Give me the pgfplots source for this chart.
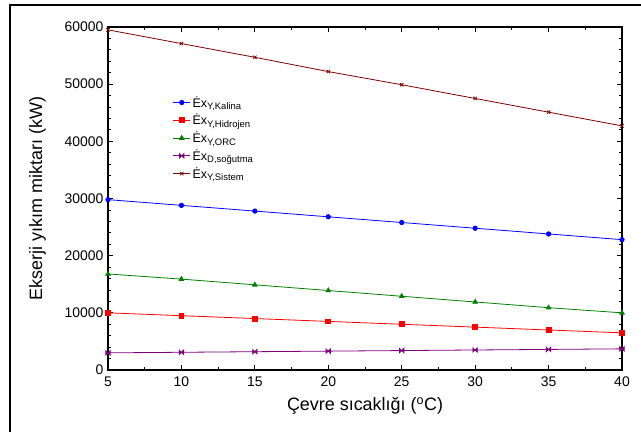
\documentclass[border=0pt]{standalone}
\usepackage{fontspec}
\setmainfont{Liberation Sans}
\usepackage{pgfplots}
\pgfplotsset{compat=1.18}
\newcommand{\sbs}[1]{\raisebox{-0.35ex}{\fontsize{9.5}{11}\selectfont #1}}
\pgfdeclareplotmark{bowtie}{%
  \pgfpathmoveto{\pgfqpoint{-\pgfplotmarksize}{-\pgfplotmarksize}}%
  \pgfpathlineto{\pgfqpoint{\pgfplotmarksize}{\pgfplotmarksize}}%
  \pgfpathlineto{\pgfqpoint{\pgfplotmarksize}{-\pgfplotmarksize}}%
  \pgfpathlineto{\pgfqpoint{-\pgfplotmarksize}{\pgfplotmarksize}}%
  \pgfpathclose
  \pgfusepathqfillstroke}
\definecolor{cKal}{RGB}{0,0,255}
\definecolor{cHid}{RGB}{255,0,0}
\definecolor{cORC}{RGB}{0,128,0}
\definecolor{cSog}{RGB}{128,0,128}
\definecolor{cSis}{RGB}{128,0,0}
\begin{document}
\begin{tikzpicture}
\useasboundingbox (-108bp,-62bp) rectangle (533bp,370bp);
\draw[line width=1.5bp] (-98bp,-62bp) -- (-98bp,365bp) -- (533bp,365bp);
\begin{axis}[
  at={(0,0)}, anchor=south west,
  scale only axis, width=514bp, height=343bp,
  xmin=5, xmax=40, ymin=0, ymax=60000,
  xtick={5,10,...,40}, ytick={0,10000,...,60000},
  minor x tick num=1, minor y tick num=4,
  tick align=inside, ticks=both,
  xtick pos=both, ytick pos=both,
  major tick length=5bp, minor tick length=3bp,
  axis line style={line width=1.2bp},
  every tick/.style={black, line width=0.8bp},
  scaled y ticks=false,
  /pgf/number format/assume math mode=true,
  yticklabel={\pgfmathprintnumber[fixed,1000 sep={}]{\tick}},
  ticklabel style={font=\fontsize{14}{16}\selectfont},
  xticklabel style={yshift=-3bp},
  yticklabel style={xshift=-1bp},
  xlabel={Çevre sıcaklığı (\textsuperscript{o}C)},
  ylabel={Ekserji yıkım miktarı (kW)},
  label style={font=\fontsize{18}{20}\selectfont},
  xlabel style={yshift=-4bp},
  ylabel style={yshift=12bp},
  legend style={draw=none, fill=none, at={(0.12,0.81)}, anchor=north west,
    font=\fontsize{12.5}{14}\selectfont, row sep=1.5bp},
  legend cell align=left,
  legend image post style={sharp plot},
  every axis plot/.append style={line width=0.8bp},
]
\addplot[color=cKal, mark=*, mark size=2.2bp] coordinates {
(5,29800) (10,28800) (15,27800) (20,26800) (25,25800) (30,24800) (35,23800) (40,22800)};
\addlegendentry{Ėx\sbs{Y,Kalina}}
\addplot[color=cHid, mark=square*, mark size=2.4bp] coordinates {
(5,10000) (10,9500) (15,9000) (20,8500) (25,8000) (30,7500) (35,7000) (40,6500)};
\addlegendentry{Ėx\sbs{Y,Hidrojen}}
\addplot[color=cORC, mark=triangle*, mark size=2.6bp] coordinates {
(5,16800) (10,15900) (15,14900) (20,13900) (25,12900) (30,11900) (35,10900) (40,10000)};
\addlegendentry{Ėx\sbs{Y,ORC}}
\addplot[color=cSog, mark=bowtie, mark size=2.2bp] coordinates {
(5,3000) (10,3100) (15,3200) (20,3300) (25,3400) (30,3500) (35,3600) (40,3700)};
\addlegendentry{Ėx\sbs{D,soğutma}}
\addplot[color=cSis, mark=x, mark size=2.4bp] coordinates {
(5,59500) (10,57100) (15,54700) (20,52200) (25,49900) (30,47500) (35,45100) (40,42700)};
\addlegendentry{Ėx\sbs{Y,Sistem}}
\end{axis}
\end{tikzpicture}
\end{document}
